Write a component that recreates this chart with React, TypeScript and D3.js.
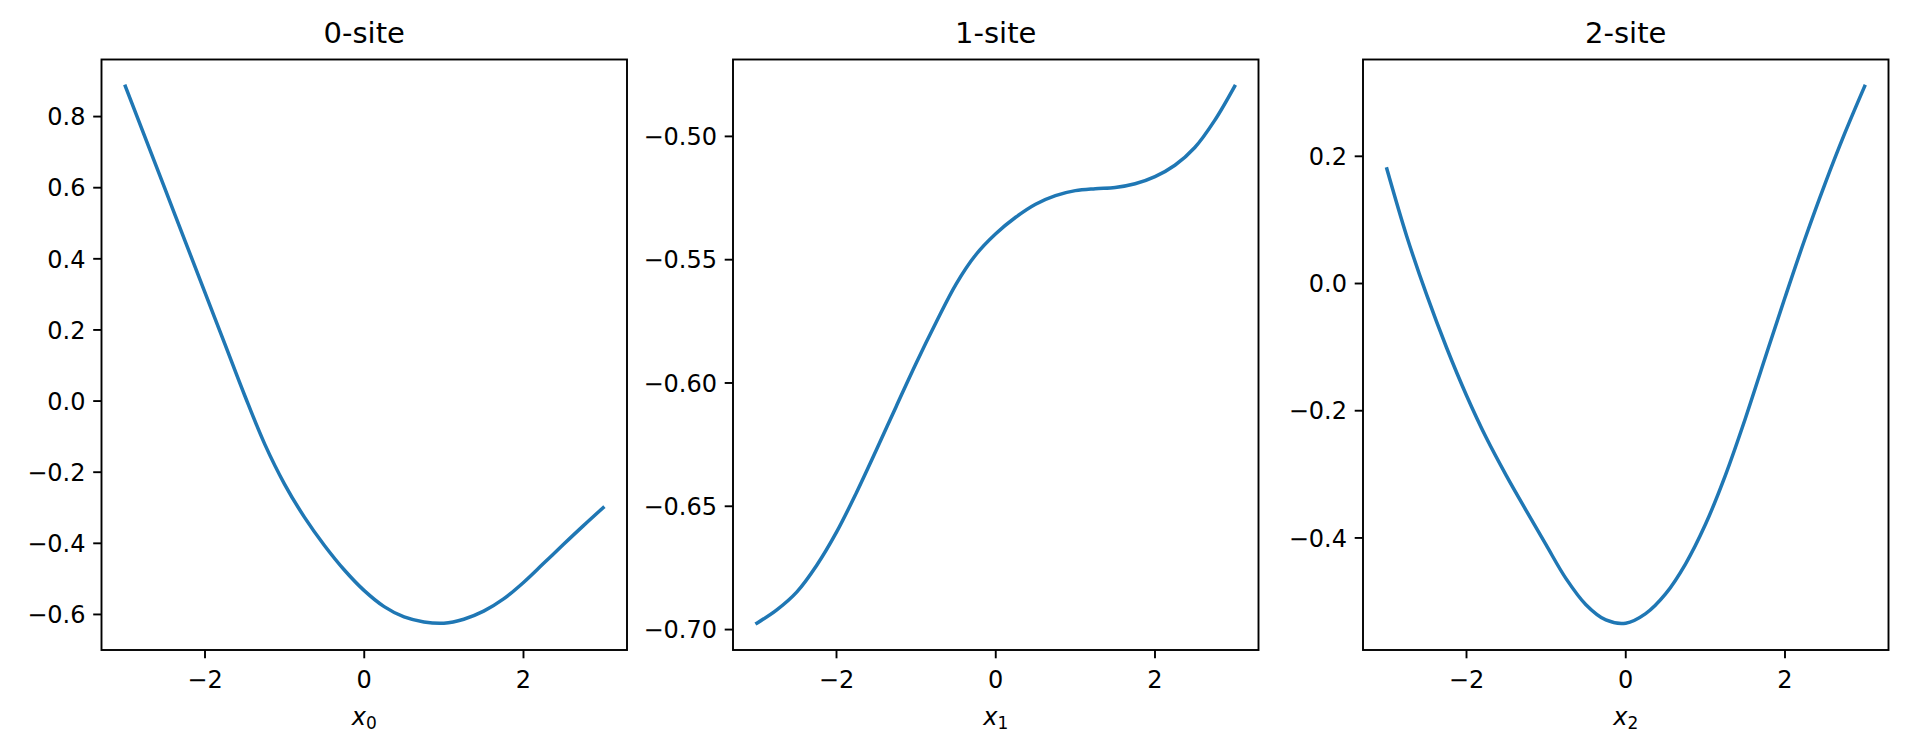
import React from "react";
import * as d3 from "d3";

const xs = [-3, -2.75, -2.5, -2.25, -2, -1.75, -1.5, -1.25, -1, -0.75, -0.5, -0.25, 0, 0.25, 0.5, 0.75, 1, 1.25, 1.5, 1.75, 2, 2.25, 2.5, 2.75, 3];
const site0 = [0.885, 0.74, 0.595, 0.45, 0.305, 0.16, 0.015, -0.121, -0.234, -0.327, -0.406, -0.475, -0.533, -0.578, -0.607, -0.621, -0.6245, -0.6134, -0.5908, -0.5564, -0.51, -0.457, -0.4035, -0.351, -0.3];
const site1 = [-0.6974, -0.692, -0.6848, -0.674, -0.6605, -0.6445, -0.6272, -0.6095, -0.592, -0.5755, -0.56, -0.548, -0.5395, -0.5328, -0.5275, -0.524, -0.522, -0.5212, -0.5207, -0.5192, -0.5163, -0.5117, -0.5045, -0.4935, -0.4797];
const site2 = [0.18, 0.074, -0.018, -0.101, -0.176, -0.243, -0.302, -0.357, -0.411, -0.464, -0.505, -0.529, -0.534, -0.519, -0.488, -0.441, -0.379, -0.302, -0.213, -0.117, -0.022, 0.07, 0.156, 0.236, 0.31];

const titles = ["0-site", "1-site", "2-site"];
const subs = ["0", "1", "2"];
const xTicks = [-2, 0, 2];
const yTicks0 = [-0.6, -0.4, -0.2, 0.0, 0.2, 0.4, 0.6, 0.8];
const yTicks1 = [-0.7, -0.65, -0.6, -0.55, -0.5];
const yTicks2 = [-0.4, -0.2, 0.0, 0.2];
const yDigits = [1, 2, 1];

const series = [site0, site1, site2];
const yTickSets = [yTicks0, yTicks1, yTicks2];

const W = 1907;
const H = 751;
const panelLeft = [101.5, 733, 1363];
const panelW = 525.5;
const top = 59.5;
const bottom = 650;
const font = "DejaVu Sans";
const blue = "#1f77b4";

function fmt(v: number, d: number) {
  const s = Math.abs(v).toFixed(d);
  return (v < -1e-9 ? "\u2212" : "") + s;
}

function Panel({ i }: { i: number }) {
  const ys = series[i];
  const x0 = panelLeft[i];
  const xMin = d3.min(xs)!, xMax = d3.max(xs)!;
  const xPad = (xMax - xMin) * 0.05;
  const x = d3.scaleLinear().domain([xMin - xPad, xMax + xPad]).range([x0, x0 + panelW]);
  const yMin = d3.min(ys)!, yMax = d3.max(ys)!;
  const yPad = (yMax - yMin) * 0.05;
  const y = d3.scaleLinear().domain([yMin - yPad, yMax + yPad]).range([bottom, top]);
  const pts: [number, number][] = xs.map((v, k) => [v, ys[k]]);
  const line = d3
    .line<[number, number]>()
    .x((d) => x(d[0]))
    .y((d) => y(d[1]))
    .curve(d3.curveCatmullRom.alpha(0.5));
  const cx = x0 + panelW / 2;
  return (
    <g>
      <path d={line(pts) || ""} fill="none" stroke={blue} strokeWidth={3.5} strokeLinecap="square" />
      {xTicks.map((t) => (
        <g key={"x" + t}>
          <line x1={x(t)} x2={x(t)} y1={bottom} y2={bottom + 8.3} stroke="#000" strokeWidth={1.9} />
          <text x={x(t)} y={688} textAnchor="middle" fontFamily={font} fontSize={24} fill="#000">
            {fmt(t, 0)}
          </text>
        </g>
      ))}
      {yTickSets[i].map((t) => (
        <g key={"y" + t}>
          <line x1={x0 - 8.3} x2={x0} y1={y(t)} y2={y(t)} stroke="#000" strokeWidth={1.9} />
          <text x={x0 - 16} y={y(t) + 8.7} textAnchor="end" fontFamily={font} fontSize={24} fill="#000">
            {fmt(t, yDigits[i])}
          </text>
        </g>
      ))}
      <rect x={x0} y={top} width={panelW} height={bottom - top} fill="none" stroke="#000" strokeWidth={1.9} />
      <text x={cx} y={42.5} textAnchor="middle" fontFamily={font} fontSize={29} fill="#000">
        {titles[i]}
      </text>
      <text x={cx} y={725} textAnchor="middle" fontFamily={font} fontSize={24} fill="#000">
        <tspan fontStyle="italic">x</tspan>
        <tspan fontSize={17} dy={4}>{subs[i]}</tspan>
      </text>
    </g>
  );
}

export default function App() {
  return (
    <div style={{ position: "absolute", left: 0, top: 0 }}>
      <svg width={W} height={H} viewBox={`0 0 ${W} ${H}`} style={{ display: "block", background: "#fff" }}>
        <rect width={W} height={H} fill="#fff" />
        {[0, 1, 2].map((i) => (
          <Panel key={i} i={i} />
        ))}
      </svg>
    </div>
  );
}
